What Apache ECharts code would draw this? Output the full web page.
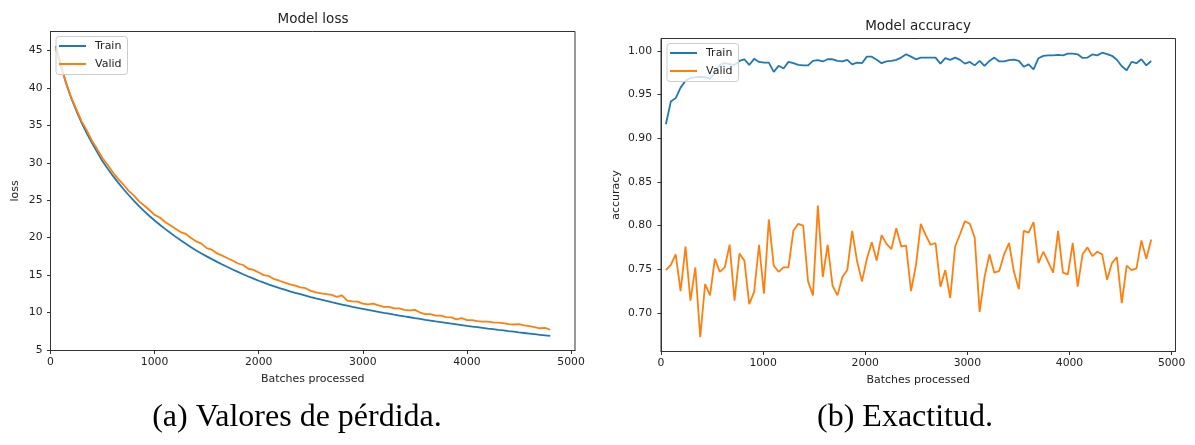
<!DOCTYPE html>
<html><head><meta charset="utf-8">
<script src="https://cdn.jsdelivr.net/npm/echarts@6/dist/echarts.min.js"></script>
<style>html,body{margin:0;padding:0;background:#fff}#c{width:1195px;height:445px}</style>
</head><body><div id="c"></div>
<script>
// Batch counters (x positions of logged points)
const lossBatches = [];
for (let b = 50; b <= 4800; b += 50) lossBatches.push(b);
const accBatches = [];
for (let b = 48; b <= 4800; b += 48) accBatches.push(b);

const trainLoss = [45.6,43.0,40.6,38.6,36.9,35.3,33.9,32.6,31.4,30.2,
 29.2,28.25,27.35,26.5,25.7,24.94,24.22,23.54,22.9,22.3,
 21.73,21.18,20.65,20.14,19.65,19.18,18.73,18.30,17.89,17.50,
 17.13,16.77,16.42,16.08,15.75,15.43,15.12,14.82,14.53,14.25,
 13.99,13.74,13.50,13.27,13.05,12.84,12.64,12.45,12.26,12.07,
 11.89,11.72,11.55,11.38,11.22,11.07,10.92,10.77,10.63,10.50,
 10.36,10.23,10.10,9.97,9.85,9.72,9.60,9.48,9.37,9.25,
 9.14,9.03,8.93,8.82,8.72,8.62,8.52,8.42,8.32,8.22,
 8.13,8.04,7.95,7.86,7.78,7.69,7.61,7.52,7.44,7.35,
 7.27,7.19,7.11,7.03,6.95,6.87];

const validLoss = [45.3,42.9,40.7,38.7,37.1,35.5,34.3,32.9,31.8,30.6,
 29.7,28.7,27.85,27.1,26.25,25.65,24.85,24.3,23.7,23.05,
 22.7,22.1,21.65,21.2,20.75,20.5,19.95,19.5,19.2,18.6,
 18.4,17.9,17.6,17.25,16.95,16.55,16.35,15.85,15.7,15.35,
 15.0,14.85,14.45,14.25,14.0,13.75,13.6,13.35,13.25,12.9,
 12.7,12.55,12.45,12.35,12.1,12.3,11.6,11.5,11.45,11.2,
 11.1,11.2,10.95,10.75,10.75,10.55,10.55,10.35,10.3,10.35,
 10.0,9.8,9.8,9.6,9.6,9.4,9.35,9.1,9.25,9.0,
 9.0,8.85,8.8,8.8,8.7,8.65,8.6,8.45,8.4,8.45,
 8.3,8.2,8.05,7.9,7.95,7.7];

const trainAcc = [0.916,0.942,0.946,0.958,0.966,0.969,0.970,0.9705,0.970,0.968,
 0.975,0.984,0.986,0.985,0.984,0.9886,0.9905,0.984,0.991,0.9875,
 0.9866,0.9866,0.976,0.983,0.980,0.9875,0.986,0.984,0.9835,0.9835,
 0.9886,0.9895,0.988,0.9905,0.9905,0.9886,0.988,0.9898,0.9847,0.9866,
 0.986,0.9935,0.9935,0.990,0.986,0.988,0.9886,0.9898,0.9924,0.9962,
 0.9935,0.9905,0.9924,0.9924,0.9924,0.9924,0.9855,0.9917,0.9898,0.9924,
 0.9898,0.9855,0.9875,0.9835,0.9886,0.9828,0.9886,0.9924,0.988,0.988,
 0.9895,0.990,0.9886,0.982,0.9847,0.979,0.9917,0.9944,0.995,0.995,
 0.9955,0.995,0.997,0.997,0.9962,0.992,0.9925,0.996,0.995,0.998,
 0.9965,0.9945,0.990,0.9825,0.978,0.9875,0.986,0.9905,0.9835,0.9885];

const validAcc = [0.749,0.755,0.767,0.725,0.776,0.714,0.752,0.672,0.733,0.720,
 0.762,0.747,0.752,0.778,0.714,0.768,0.760,0.710,0.724,0.778,
 0.722,0.807,0.754,0.747,0.752,0.752,0.794,0.802,0.800,0.736,
 0.720,0.823,0.741,0.778,0.731,0.720,0.741,0.749,0.794,0.759,
 0.736,0.762,0.781,0.760,0.789,0.779,0.773,0.797,0.776,0.777,
 0.725,0.754,0.802,0.789,0.778,0.780,0.730,0.749,0.717,0.776,
 0.790,0.805,0.802,0.786,0.701,0.741,0.767,0.746,0.748,0.767,
 0.780,0.747,0.727,0.794,0.792,0.804,0.757,0.770,0.758,0.746,
 0.794,0.746,0.744,0.780,0.730,0.767,0.775,0.765,0.770,0.767,
 0.738,0.757,0.764,0.711,0.754,0.749,0.751,0.783,0.762,0.784];

const xTicks = [0, 1000, 2000, 3000, 4000, 5000];
const lossTicks = [5, 10, 15, 20, 25, 30, 35, 40, 45];
const accTicks = [0.70, 0.75, 0.80, 0.85, 0.90, 0.95, 1.00];

const BLUE = '#1f77b4', ORANGE = '#ff7f0e';
const TXT = '#222', AX = '#333';
const FONT = 'DejaVu Sans';

function xAxis(gridIndex) {
  return {
    type: 'value', gridIndex, min: 0, max: 5038,
    name: 'Batches processed', nameLocation: 'middle', nameGap: 23,
    nameTextStyle: { color: TXT, fontSize: 11, fontFamily: FONT },
    axisLine: { show: true, lineStyle: { color: AX, width: 1 } },
    axisTick: { show: true, length: 3.5, inside: false, customValues: xTicks, lineStyle: { color: AX } },
    axisLabel: { show: true, customValues: xTicks, margin: 6, color: TXT, fontSize: 10.8, fontFamily: FONT, formatter: v => String(v) },
    splitLine: { show: false }
  };
}
function yAxis(gridIndex, name, min, max, ticks, fmt, gap, margin) {
  return {
    type: 'value', gridIndex, min, max,
    name, nameLocation: 'middle', nameGap: gap,
    nameTextStyle: { color: TXT, fontSize: 11, fontFamily: FONT },
    axisLine: { show: true, lineStyle: { color: AX, width: 1 } },
    axisTick: { show: true, length: 3.5, inside: false, customValues: ticks, lineStyle: { color: AX } },
    axisLabel: { show: true, customValues: ticks, margin, color: TXT, fontSize: 10.8, fontFamily: FONT, formatter: fmt },
    splitLine: { show: false }
  };
}
function legend(left, top) {
  return {
    orient: 'vertical', left, top,
    data: [{ name: 'Train', itemStyle: { color: BLUE } }, { name: 'Valid', itemStyle: { color: ORANGE } }],
    icon: 'rect', itemWidth: 27, itemHeight: 2, itemGap: 7,
    padding: [4, 6, 5, 3],
    backgroundColor: 'rgba(255,255,255,0.8)',
    borderColor: '#cccccc', borderWidth: 1, borderRadius: 3,
    textStyle: { color: TXT, fontSize: 11, fontFamily: FONT, padding: [0, 0, 0, 4] },
    selectedMode: false
  };
}
function line(name, xi, data, xs, color) {
  return {
    type: 'line', name, xAxisIndex: xi, yAxisIndex: xi,
    data: xs.map((b, i) => [b, data[i]]),
    symbol: 'none', showSymbol: false,
    lineStyle: { color, width: 1.8 }, itemStyle: { color },
    animation: false, z: 3
  };
}

const chart = echarts.init(document.getElementById('c'), null, { renderer: 'canvas' });
chart.setOption({
  animation: false,
  backgroundColor: '#ffffff',
  grid: [
    { left: 50.5, top: 31.5, width: 524.5, height: 319, show: true, borderColor: AX, borderWidth: 1, backgroundColor: 'transparent', containLabel: false, outerBoundsMode: 'none' },
    { left: 661, top: 38.5, width: 514.5, height: 313, show: true, borderColor: AX, borderWidth: 1, backgroundColor: 'transparent', containLabel: false, outerBoundsMode: 'none' }
  ],
  xAxis: [xAxis(0), xAxis(1)],
  yAxis: [
    yAxis(0, 'loss', 4.93, 47.54, lossTicks, v => String(v), 30, 8),
    yAxis(1, 'accuracy', 0.6557, 1.0143, accTicks, v => v.toFixed(2), 39, 9)
  ],
  legend: [legend(56, 36.5), legend(667, 43.5)],
  series: [
    line('Train', 0, trainLoss, lossBatches, BLUE),
    line('Valid', 0, validLoss, lossBatches, ORANGE),
    line('Train', 1, trainAcc, accBatches, BLUE),
    line('Valid', 1, validAcc, accBatches, ORANGE)
  ],
  graphic: [
    { type: 'text', x: 313, y: 19, style: { text: 'Model loss', fill: TXT, font: '13.5px "DejaVu Sans"', align: 'center', verticalAlign: 'middle' } },
    { type: 'text', x: 918, y: 26.7, style: { text: 'Model accuracy', fill: TXT, font: '13.5px "DejaVu Sans"', align: 'center', verticalAlign: 'middle' } },
    { type: 'text', x: 297, y: 418, style: { text: '(a) Valores de pérdida.', fill: '#000', font: '32px "Liberation Serif"', align: 'center', verticalAlign: 'middle' } },
    { type: 'text', x: 905, y: 418, style: { text: '(b) Exactitud.', fill: '#000', font: '32px "Liberation Serif"', align: 'center', verticalAlign: 'middle' } }
  ]
});
</script></body></html>
